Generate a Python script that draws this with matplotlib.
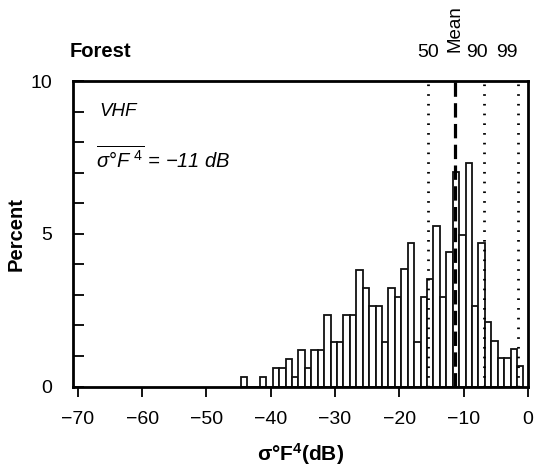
import matplotlib
matplotlib.use("Agg")
import matplotlib.pyplot as plt
import numpy as np

plt.rcParams['font.family'] = ['Liberation Sans', 'DejaVu Sans']
plt.rcParams['mathtext.fontset'] = 'custom'
plt.rcParams['mathtext.rm'] = 'Liberation Sans'
plt.rcParams['mathtext.it'] = 'Liberation Sans:italic'
plt.rcParams['mathtext.bf'] = 'Liberation Sans:bold'

# histogram data: bin centres (dB) and percentages
bin_centers = [-44.2 + k for k in range(44)]
percent = [0.30, 0.0, 0.0, 0.30, 0.0, 0.60, 0.60, 0.90, 0.30, 1.19,
           0.60, 1.19, 1.19, 2.35, 1.47, 1.47, 2.35, 2.35, 3.82, 3.22,
           2.62, 2.62, 1.47, 3.22, 2.94, 3.84, 4.69, 1.47, 2.94, 3.51,
           5.27, 2.94, 4.39, 7.01, 4.97, 7.30, 2.65, 4.69, 2.12, 1.50,
           0.92, 0.92, 1.23, 0.67]
bin_width = 1.0

# percentile / mean lines
line_labels = ['50', 'Mean', '90', '99']
line_values = [-15.6, -11.4, -6.8, -1.6]

x_ticks = [-70, -60, -50, -40, -30, -20, -10, 0]
x_ticklabels = ['\u221270', '\u221260', '\u221250', '\u221240', '\u221230', '\u221220', '\u221210', '0']
y_ticks = [0, 5, 10]

fig = plt.figure(figsize=(5.41, 4.66), dpi=100)
ax = fig.add_axes([73.3/541, 1 - 386.5/466, (528 - 73.3)/541, (386.5 - 81)/466])

ax.bar(bin_centers, percent, width=bin_width, color='white', edgecolor='#111111',
       linewidth=1.3, zorder=2)

for lab, v in zip(line_labels, line_values):
    if lab == 'Mean':
        ax.axvline(v, color='black', lw=2.3, ls=(0, (4.5, 2.0)), zorder=3)
    else:
        ax.axvline(v, color='black', lw=2.0, ls=(0, (0.6, 2.9)), zorder=3)

ax.set_xlim(-70.7, 0)
ax.set_ylim(0, 10)
ax.set_xticks(x_ticks)
ax.set_xticklabels(x_ticklabels, fontsize=14)
ax.set_yticks(y_ticks)
ax.set_yticklabels([str(t) for t in y_ticks], fontsize=14)
ax.set_yticks([1, 2, 3, 4, 6, 7, 8, 9], minor=True)
ax.tick_params(axis='x', direction='out', length=7, width=1.3, pad=11)
ax.tick_params(axis='y', which='both', direction='in', length=8, width=1.3, pad=15)
for s in ax.spines.values():
    s.set_linewidth(2.0)

ax.set_xlabel('\u03c3\u00b0$\\mathbf{F^4(dB)}$', fontsize=15, fontweight='bold', labelpad=9)
ax.set_ylabel('Percent', fontsize=14.5, fontweight='bold', labelpad=4)

# titles and labels above
fig.text(70/541, 1 - 57/466, 'Forest', fontsize=14.5, fontweight='bold', ha='left', va='baseline')
label_offsets = {'50': 0.0, 'Mean': 0.0, '90': -1.2, '99': -1.7}
for lab, v in zip(line_labels, line_values):
    xv = v + label_offsets[lab]
    if lab == 'Mean':
        ax.text(xv, 1 + 29/305.5, lab, transform=ax.get_xaxis_transform(), rotation=90,
                ha='center', va='bottom', fontsize=13.5)
    else:
        ax.text(xv, 1 + 24/305.5, lab, transform=ax.get_xaxis_transform(),
                ha='center', va='baseline', fontsize=14)

ax.text(-66.6, 9.0, 'VHF', fontsize=13.5, style='italic', ha='left', va='center')
ax.text(-67.2, 7.45, '$\\overline{\\sigma\u00b0F^{\\ 4}}$ = \u221211 dB',
        fontsize=14.5, style='italic', ha='left', va='center')

fig.savefig('out.png', dpi=100)
